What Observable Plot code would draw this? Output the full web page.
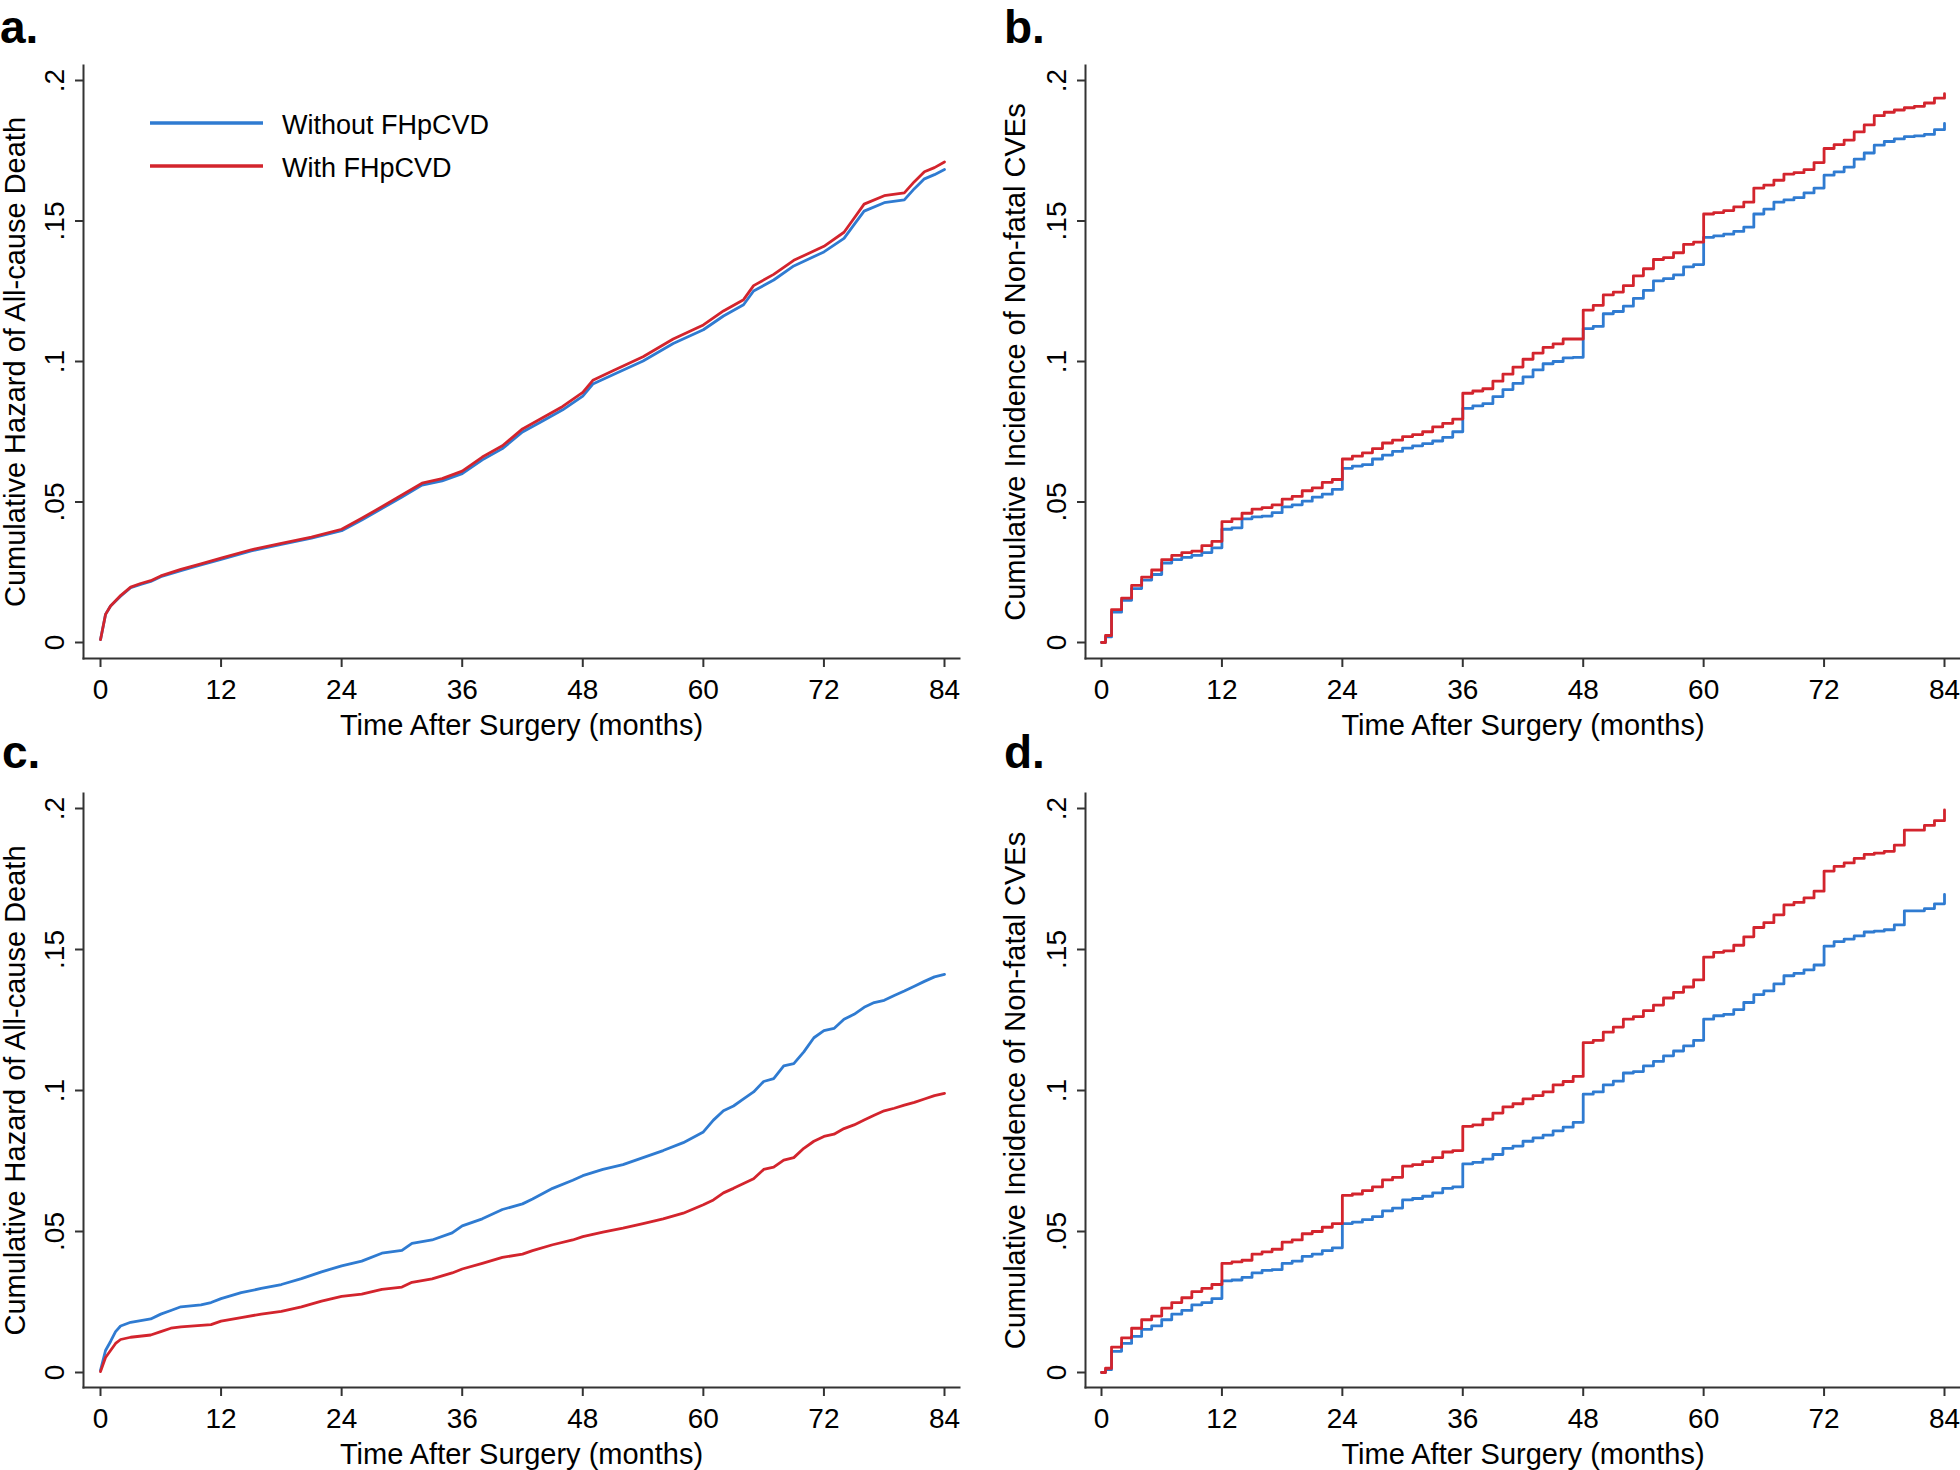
<!DOCTYPE html>
<html>
<head>
<meta charset="utf-8">
<script src="https://cdn.jsdelivr.net/npm/d3@7"></script>
<script src="https://cdn.jsdelivr.net/npm/@observablehq/plot@0.6"></script>
<style>
  html, body { margin: 0; padding: 0; background: #fff; }
  #root { position: relative; width: 1960px; height: 1470px; overflow: hidden; background: #fff; }
  .panel { position: absolute; width: 980px; height: 735px; }
  .panel svg { overflow: visible; }
  #overlay { position: absolute; left: 0; top: 0; pointer-events: none; }
</style>
</head>
<body>
<div id="root"></div>
<script>
// ---------------- data ----------------
const seriesNames = ["Without FHpCVD", "With FHpCVD"];
const xTicks = [0, 12, 24, 36, 48, 60, 72, 84];
const yTicks = [0, 0.05, 0.1, 0.15, 0.2];
const xTitle = "Time After Surgery (months)";
const yTitleHazard = "Cumulative Hazard of All-cause Death";
const yTitleIncidence = "Cumulative Incidence of Non-fatal CVEs";
const panelLetters = ["a.", "b.", "c.", "d."];

// Panel a: cumulative hazard of all-cause death
const aTime = [0, 0.5, 1, 2, 3, 4, 5, 6, 8, 10, 12, 15, 18, 21, 24, 26, 28, 30, 32, 34, 36, 38, 40, 42,
  44, 46, 48, 49, 51, 54, 57, 60, 62, 64, 65, 67, 69, 72, 74, 75, 76, 78, 80, 81, 82, 83, 84];
const aWithout = [0.001, 0.010, 0.013, 0.0165, 0.0195, 0.0207, 0.0217, 0.0234, 0.0256, 0.0276, 0.0296, 0.0326,
  0.0349, 0.0371, 0.0398, 0.0436, 0.0477, 0.0518, 0.056, 0.0575, 0.0601, 0.065, 0.069, 0.0749,
  0.0788, 0.0828, 0.0877, 0.092, 0.0953, 0.1002, 0.1064, 0.1113, 0.1162, 0.1202, 0.1251, 0.129,
  0.134, 0.139, 0.1438, 0.1487, 0.1535, 0.1565, 0.1575, 0.1615, 0.165, 0.1665, 0.1683];
const aWith = [0.001, 0.010, 0.013, 0.0167, 0.0197, 0.021, 0.022, 0.0237, 0.026, 0.028, 0.030, 0.033,
  0.0353, 0.0375, 0.0403, 0.0442, 0.0483, 0.0525, 0.0567, 0.0583, 0.061, 0.066, 0.070, 0.076,
  0.080, 0.084, 0.089, 0.0933, 0.0967, 0.1017, 0.108, 0.113, 0.118, 0.122, 0.127, 0.131,
  0.136, 0.141, 0.146, 0.151, 0.156, 0.159, 0.160, 0.164, 0.1675, 0.169, 0.171];

// Panel c: cumulative hazard of all-cause death
const cTime = [0, 0.5, 1, 1.5, 2, 3, 5, 6, 7, 8, 10, 11, 12, 14, 16, 18, 20, 22, 24, 26, 28, 30, 31, 33,
  35, 36, 38, 40, 42, 43, 45, 47, 48, 50, 52, 54, 56, 58,
  60, 61, 62, 63, 64, 65, 66, 67, 68, 69, 70, 71, 72, 73, 74, 75, 76, 77, 78, 79, 80, 81, 82, 83, 84];
const cWithout = [0.0008, 0.0078, 0.011, 0.0145, 0.0165, 0.0178, 0.019, 0.0207, 0.022, 0.0233, 0.024, 0.0248,
  0.0262, 0.0283, 0.0298, 0.0312, 0.0333, 0.0357, 0.0378, 0.0395, 0.0423, 0.0433, 0.0458, 0.047,
  0.0495, 0.052, 0.0545, 0.0578, 0.0598, 0.0615, 0.0653, 0.0682, 0.0698, 0.072, 0.0737, 0.0762, 0.0787, 0.0815,
  0.0853, 0.0895, 0.0928, 0.0945, 0.097, 0.0995, 0.1032, 0.1042, 0.1087, 0.1095, 0.1137, 0.1187, 0.1212,
  0.122, 0.1253, 0.127, 0.1295, 0.1312, 0.132, 0.1337, 0.1353, 0.137, 0.1387, 0.1403, 0.1412];
const cWith = [0.0003, 0.0053, 0.0078, 0.0103, 0.0117, 0.0125, 0.0133, 0.0145, 0.0157, 0.0162, 0.0167, 0.017,
  0.0182, 0.0195, 0.0207, 0.0217, 0.0233, 0.0253, 0.027, 0.0278, 0.0295, 0.0303, 0.032, 0.0332,
  0.0353, 0.0367, 0.0387, 0.0408, 0.042, 0.0432, 0.0453, 0.047, 0.0482, 0.0498, 0.0512, 0.0528, 0.0545, 0.0565,
  0.0595, 0.0612, 0.0637, 0.0653, 0.067, 0.0687, 0.072, 0.0728, 0.0753, 0.0762, 0.0795, 0.082, 0.0837,
  0.0845, 0.0865, 0.0878, 0.0895, 0.0912, 0.0928, 0.0937, 0.0948, 0.0958, 0.097, 0.0982, 0.099];

// Panels b and d: cumulative incidence of non-fatal CVEs (step functions, monthly)
const stepTime = [0, 0.4,
  1, 2, 3, 4, 5, 6, 7, 8, 9, 10, 11, 12,
  13, 14, 15, 16, 17, 18, 19, 20, 21, 22, 23, 24,
  25, 26, 27, 28, 29, 30, 31, 32, 33, 34, 35, 36,
  37, 38, 39, 40, 41, 42, 43, 44, 45, 46, 47, 48,
  49, 50, 51, 52, 53, 54, 55, 56, 57, 58, 59, 60,
  61, 62, 63, 64, 65, 66, 67, 68, 69, 70, 71, 72,
  73, 74, 75, 76, 77, 78, 79, 80, 81, 82, 83, 84];
const bWithout = [0, 0.002,
  0.0108, 0.015, 0.0192, 0.0222, 0.0242, 0.0283, 0.0295, 0.0303, 0.031, 0.032, 0.0337, 0.0403,
  0.0408, 0.044, 0.0447, 0.045, 0.0462, 0.0483, 0.049, 0.0503, 0.0517, 0.0528, 0.0545, 0.062,
  0.0628, 0.0633, 0.0653, 0.0667, 0.068, 0.0692, 0.070, 0.0708, 0.0717, 0.073, 0.075, 0.0833,
  0.0842, 0.085, 0.0875, 0.090, 0.0922, 0.0945, 0.097, 0.0992, 0.100, 0.1013, 0.1015, 0.1117,
  0.1125, 0.117, 0.1178, 0.1197, 0.1225, 0.1253, 0.1287, 0.1295, 0.1308, 0.1337, 0.1345, 0.1442,
  0.1447, 0.1453, 0.1463, 0.1478, 0.1525, 0.1542, 0.1567, 0.1575, 0.1583, 0.160, 0.1617, 0.1663,
  0.1675, 0.1692, 0.172, 0.1742, 0.177, 0.1783, 0.1792, 0.180, 0.1803, 0.1808, 0.1825, 0.1847];
const bWith = [0, 0.0025,
  0.0117, 0.0158, 0.0203, 0.0233, 0.0258, 0.0295, 0.031, 0.032, 0.0325, 0.0345, 0.036, 0.043,
  0.044, 0.046, 0.0475, 0.048, 0.049, 0.051, 0.052, 0.054, 0.055, 0.057, 0.058, 0.0653,
  0.0663, 0.0675, 0.069, 0.071, 0.072, 0.0733, 0.074, 0.075, 0.0767, 0.078, 0.0795, 0.0887,
  0.0895, 0.0903, 0.093, 0.0955, 0.098, 0.1008, 0.103, 0.105, 0.1063, 0.108, 0.108, 0.1183,
  0.120, 0.1237, 0.1247, 0.127, 0.1305, 0.133, 0.1363, 0.137, 0.1387, 0.1417, 0.1425, 0.1525,
  0.153, 0.1537, 0.155, 0.1567, 0.1617, 0.1628, 0.1645, 0.1667, 0.1672, 0.1683, 0.1708, 0.1758,
  0.1772, 0.1788, 0.1817, 0.1842, 0.1875, 0.1887, 0.1895, 0.1903, 0.1908, 0.192, 0.1937, 0.1953];
const dWithout = [0, 0.001,
  0.0075, 0.0103, 0.0128, 0.0153, 0.0165, 0.0187, 0.0207, 0.022, 0.024, 0.0248, 0.0262, 0.0325,
  0.0328, 0.0337, 0.0353, 0.0362, 0.0365, 0.0387, 0.0395, 0.0412, 0.042, 0.0432, 0.0442, 0.0528,
  0.0533, 0.0542, 0.0553, 0.0573, 0.0583, 0.0612, 0.0617, 0.0625, 0.0637, 0.0653, 0.0658, 0.074,
  0.0745, 0.0757, 0.0773, 0.0795, 0.0803, 0.082, 0.0832, 0.0842, 0.0857, 0.087, 0.0887, 0.0987,
  0.0995, 0.102, 0.1033, 0.1062, 0.1067, 0.1087, 0.1103, 0.1123, 0.114, 0.1158, 0.1178, 0.1253,
  0.1265, 0.127, 0.1287, 0.1312, 0.134, 0.1353, 0.1378, 0.1407, 0.1415, 0.1428, 0.1445, 0.1512,
  0.1528, 0.1537, 0.1548, 0.1562, 0.1565, 0.157, 0.1587, 0.1637, 0.1637, 0.1645, 0.1662, 0.1695];
const dWith = [0, 0.0015,
  0.009, 0.0123, 0.0157, 0.0187, 0.02, 0.0228, 0.0248, 0.0265, 0.0287, 0.0298, 0.0312, 0.0387,
  0.0392, 0.0398, 0.042, 0.0428, 0.0437, 0.0462, 0.047, 0.0492, 0.05, 0.0515, 0.0528, 0.0628,
  0.0633, 0.0645, 0.0658, 0.0683, 0.0692, 0.0732, 0.0737, 0.0748, 0.0762, 0.0782, 0.0787, 0.0873,
  0.0878, 0.0898, 0.092, 0.0942, 0.0953, 0.097, 0.0982, 0.0995, 0.102, 0.1032, 0.105, 0.117,
  0.1178, 0.1207, 0.1225, 0.1253, 0.1262, 0.1283, 0.1303, 0.1328, 0.1348, 0.1367, 0.1392, 0.1473,
  0.149, 0.1495, 0.1515, 0.1545, 0.1578, 0.1595, 0.1623, 0.1658, 0.1667, 0.1683, 0.1707, 0.1778,
  0.1795, 0.1807, 0.1823, 0.1837, 0.1842, 0.1848, 0.187, 0.1923, 0.1923, 0.194, 0.1957, 0.1995];

// ---------------- styling ----------------
const BLUE = "#2f7bd1";
const RED = "#d3242d";
const AXIS = "#333333";
const FONT = "'Liberation Sans', Arial, Helvetica, sans-serif";
const TICKFONT = "'Liberation Sans Narrow', 'Arial Narrow', 'Liberation Sans', Arial, sans-serif";

function rowsOf(time, values, name) {
  return time.map((t, i) => ({t, v: values[i], series: name}));
}

function yFmt(d) {
  if (d === 0) return "0";
  return String(+d.toFixed(2)).replace(/^0\./, ".");
}

function makePanel(o) {
  const blueRows = rowsOf(o.time, o.without, seriesNames[0]);
  const redRows = rowsOf(o.time, o.withv, seriesNames[1]);
  return Plot.plot({
    width: 980,
    height: 735,
    marginLeft: o.mL, marginRight: o.mR, marginTop: o.mT, marginBottom: o.mB,
    style: {fontFamily: FONT, fontSize: "28px", color: "#000", background: "transparent", overflow: "visible"},
    x: {type: "linear", domain: [0, 84], insetLeft: o.iL, insetRight: o.iR},
    y: {type: "linear", domain: [0, 0.2], insetTop: o.iT, insetBottom: o.iB},
    marks: [
      Plot.frame({anchor: "left", stroke: AXIS, strokeWidth: 2}),
      Plot.frame({anchor: "bottom", stroke: AXIS, strokeWidth: 2}),
      Plot.axisX({ticks: xTicks, tickFormat: d => String(d), tickSize: 9, tickPadding: 12,
        stroke: AXIS, strokeWidth: 2, fontSize: 28, fontFamily: TICKFONT, fill: "#000", label: null}),
      Plot.axisY({ticks: yTicks, tickFormat: yFmt, tickSize: 8, tickPadding: 12, tickRotate: -90,
        textAnchor: "middle", lineAnchor: "bottom",
        stroke: AXIS, strokeWidth: 2, fontSize: 28, fontFamily: TICKFONT, fill: "#000", label: null}),
      Plot.line(blueRows, {x: "t", y: "v", stroke: BLUE, strokeWidth: 2.8, curve: o.curve}),
      Plot.line(redRows, {x: "t", y: "v", stroke: RED, strokeWidth: 2.8, curve: o.curve}),
      Plot.text([xTitle], {frameAnchor: "bottom", dy: 76, lineAnchor: "bottom", fontSize: 29, fill: "#000"}),
      Plot.text([o.yTitle], {frameAnchor: "left", dx: o.yDx, rotate: -90, lineAnchor: "middle",
        textAnchor: "middle", fontSize: 29, fill: "#000"})
    ]
  });
}

const root = document.getElementById("root");
const panels = [
  {left: 0, top: 0, time: aTime, without: aWithout, withv: aWith, curve: "linear", yTitle: yTitleHazard,
   mL: 83, mR: 21, mT: 65, mB: 77, iL: 17, iR: 15, iT: 15, iB: 16, yDx: -68},
  {left: 980, top: 0, time: stepTime, without: bWithout, withv: bWith, curve: "step-after", yTitle: yTitleIncidence,
   mL: 105, mR: 0, mT: 65, mB: 77, iL: 16, iR: 16, iT: 15, iB: 16, yDx: -70},
  {left: 0, top: 735, time: cTime, without: cWithout, withv: cWith, curve: "linear", yTitle: yTitleHazard,
   mL: 83, mR: 21, mT: 58, mB: 83, iL: 17, iR: 15, iT: 15, iB: 15, yDx: -68},
  {left: 980, top: 735, time: stepTime, without: dWithout, withv: dWith, curve: "step-after", yTitle: yTitleIncidence,
   mL: 105, mR: 0, mT: 58, mB: 83, iL: 16, iR: 16, iT: 15, iB: 15, yDx: -70}
];

panels.forEach(p => {
  const div = document.createElement("div");
  div.className = "panel";
  div.style.left = p.left + "px";
  div.style.top = p.top + "px";
  div.appendChild(makePanel(p));
  root.appendChild(div);
});

// ---------------- overlay: panel letters and legend ----------------
const overlay = d3.select(root).append("svg")
  .attr("id", "overlay")
  .attr("width", 1960).attr("height", 1470)
  .style("font-family", FONT);

const letterPos = [[0, 43], [1004, 43], [2, 768], [1004, 768]];
overlay.selectAll("text.letter").data(panelLetters).join("text")
  .attr("class", "letter")
  .attr("x", (d, i) => letterPos[i][0])
  .attr("y", (d, i) => letterPos[i][1])
  .attr("font-size", 46).attr("font-weight", "bold").attr("fill", "#000")
  .text(d => d);

const legend = overlay.append("g");
const legendColors = [BLUE, RED];
const legendY = [123, 166];
seriesNames.forEach((name, i) => {
  legend.append("line")
    .attr("x1", 150).attr("x2", 263)
    .attr("y1", legendY[i]).attr("y2", legendY[i])
    .attr("stroke", legendColors[i]).attr("stroke-width", 3.5);
  legend.append("text")
    .attr("x", 282).attr("y", legendY[i] + 11)
    .attr("font-size", 27).attr("fill", "#000")
    .text(name);
});
</script>
</body>
</html>
